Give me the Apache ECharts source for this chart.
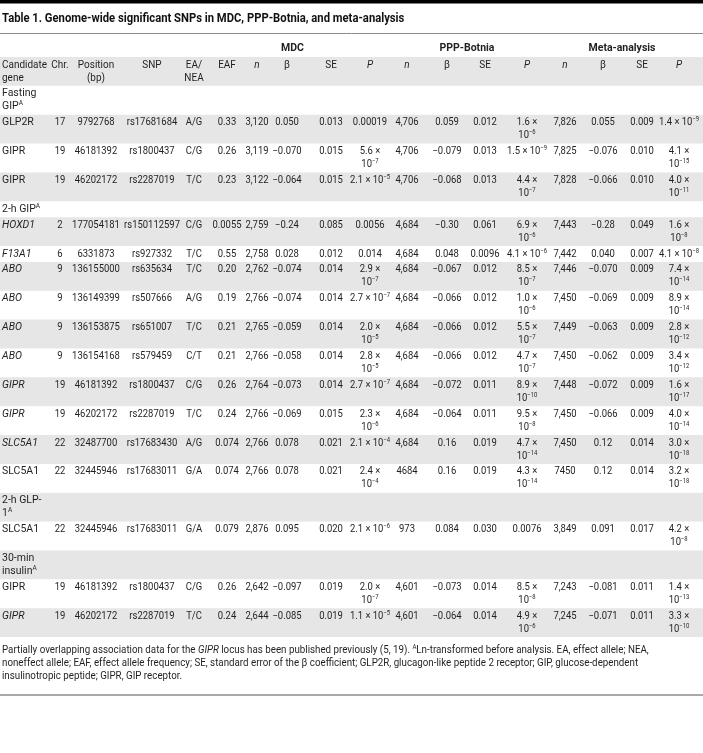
<!DOCTYPE html>
<html><head><meta charset="utf-8">
<script src="https://cdn.jsdelivr.net/npm/echarts@6/dist/echarts.min.js"></script>
<style>html,body{margin:0;padding:0;background:#fff}#c{width:703px;height:753px}</style>
</head><body><div id="c"></div>
<script>
// ---------- DATA ----------
const TITLE = 'Table 1. Genome-wide significant SNPs in MDC, PPP-Botnia, and meta-analysis';
const GROUPS = ['MDC', 'PPP-Botnia', 'Meta-analysis'];
const HEADERS = ['Candidate\ngene', 'Chr.', 'Position\n(bp)', 'SNP', 'EA/\nNEA', 'EAF',
  'n', 'β', 'SE', 'P', 'n', 'β', 'SE', 'P', 'n', 'β', 'SE', 'P'];
const GENES = ['Fasting\nGIP^A', 'GLP2R', 'GIPR', 'GIPR', '2-h GIP^A', 'HOXD1', 'F13A1', 'ABO', 'ABO', 'ABO', 'ABO',
  'GIPR', 'GIPR', 'SLC5A1', 'SLC5A1', '2-h GLP-\n1^A', 'SLC5A1', '30-min\ninsulin^A', 'GIPR', 'GIPR'];
const CHR = ['', '17', '19', '19', '', '2', '6', '9', '9', '9', '9', '19', '19', '22', '22', '', '22', '', '19', '19'];
const POSITION = ['', '9792768', '46181392', '46202172', '', '177054181', '6331873', '136155000', '136149399', '136153875', '136154168',
  '46181392', '46202172', '32487700', '32445946', '', '32445946', '', '46181392', '46202172'];
const SNP = ['', 'rs17681684', 'rs1800437', 'rs2287019', '', 'rs150112597', 'rs927332', 'rs635634', 'rs507666', 'rs651007', 'rs579459',
  'rs1800437', 'rs2287019', 'rs17683430', 'rs17683011', '', 'rs17683011', '', 'rs1800437', 'rs2287019'];
const EA_NEA = ['', 'A/G', 'C/G', 'T/C', '', 'C/G', 'T/C', 'T/C', 'A/G', 'T/C', 'C/T', 'C/G', 'T/C', 'A/G', 'G/A', '', 'G/A', '', 'C/G', 'T/C'];
const EAF = ['', '0.33', '0.26', '0.23', '', '0.0055', '0.55', '0.20', '0.19', '0.21', '0.21', '0.26', '0.24', '0.074', '0.074', '', '0.079', '', '0.26', '0.24'];
const MDC_N = ['', '3,120', '3,119', '3,122', '', '2,759', '2,758', '2,762', '2,766', '2,765', '2,766', '2,764', '2,766', '2,766', '2,766', '', '2,876', '', '2,642', '2,644'];
const MDC_BETA = ['', '0.050', '−0.070', '−0.064', '', '−0.24', '0.028', '−0.074', '−0.074', '−0.059', '−0.058', '−0.073', '−0.069', '0.078', '0.078', '', '0.095', '', '−0.097', '−0.085'];
const MDC_SE = ['', '0.013', '0.015', '0.015', '', '0.085', '0.012', '0.014', '0.014', '0.014', '0.014', '0.014', '0.015', '0.021', '0.021', '', '0.020', '', '0.019', '0.019'];
const MDC_P = ['', '0.00019', '5.6 ×\n10^−7', '2.1 × 10^−5', '', '0.0056', '0.014', '2.9 ×\n10^−7', '2.7 × 10^−7', '2.0 ×\n10^−5', '2.8 ×\n10^−5',
  '2.7 × 10^−7', '2.3 ×\n10^−6', '2.1 × 10^−4', '2.4 ×\n10^−4', '', '2.1 × 10^−6', '', '2.0 ×\n10^−7', '1.1 × 10^−5'];
const BOT_N = ['', '4,706', '4,706', '4,706', '', '4,684', '4,684', '4,684', '4,684', '4,684', '4,684', '4,684', '4,684', '4,684', '4684', '', '973', '', '4,601', '4,601'];
const BOT_BETA = ['', '0.059', '−0.079', '−0.068', '', '−0.30', '0.048', '−0.067', '−0.066', '−0.066', '−0.066', '−0.072', '−0.064', '0.16', '0.16', '', '0.084', '', '−0.073', '−0.064'];
const BOT_SE = ['', '0.012', '0.013', '0.013', '', '0.061', '0.0096', '0.012', '0.012', '0.012', '0.012', '0.011', '0.011', '0.019', '0.019', '', '0.030', '', '0.014', '0.014'];
const BOT_P = ['', '1.6 ×\n10^−6', '1.5 × 10^−9', '4.4 ×\n10^−7', '', '6.9 ×\n10^−6', '4.1 × 10^−6', '8.5 ×\n10^−7', '1.0 ×\n10^−6', '5.5 ×\n10^−7', '4.7 ×\n10^−7',
  '8.9 ×\n10^−10', '9.5 ×\n10^−8', '4.7 ×\n10^−14', '4.3 ×\n10^−14', '', '0.0076', '', '8.5 ×\n10^−8', '4.9 ×\n10^−6'];
const META_N = ['', '7,826', '7,825', '7,828', '', '7,443', '7,442', '7,446', '7,450', '7,449', '7,450', '7,448', '7,450', '7,450', '7450', '', '3,849', '', '7,243', '7,245'];
const META_BETA = ['', '0.055', '−0.076', '−0.066', '', '−0.28', '0.040', '−0.070', '−0.069', '−0.063', '−0.062', '−0.072', '−0.066', '0.12', '0.12', '', '0.091', '', '−0.081', '−0.071'];
const META_SE = ['', '0.009', '0.010', '0.010', '', '0.049', '0.007', '0.009', '0.009', '0.009', '0.009', '0.009', '0.009', '0.014', '0.014', '', '0.017', '', '0.011', '0.011'];
const META_P = ['', '1.4 × 10^−9', '4.1 ×\n10^−15', '4.0 ×\n10^−11', '', '1.6 ×\n10^−8', '4.1 × 10^−8', '7.4 ×\n10^−14', '8.9 ×\n10^−14', '2.8 ×\n10^−12', '3.4 ×\n10^−12',
  '1.6 ×\n10^−17', '4.0 ×\n10^−14', '3.0 ×\n10^−18', '3.2 ×\n10^−18', '', '4.2 ×\n10^−8', '', '1.4 ×\n10^−13', '3.3 ×\n10^−10'];
const FOOTNOTE = 'Partially overlapping association data for the {i|GIPR} locus has been published previously (5, 19). {sup|A}Ln-transformed before analysis. EA, effect allele; NEA,\n' +
  'noneffect allele; EAF, effect allele frequency; SE, standard error of the β coefficient; GLP2R, glucagon-like peptide 2 receptor; GIP, glucose-dependent\n' +
  'insulinotropic peptide; GIPR, GIP receptor.';

// ---------- STYLE / LAYOUT ----------
const GENE_ITALIC = [0,0,0,0,0,1,1,1,1,1,1,1,1,1,0,0,0,0,0,1];
const HEADER_ITALIC = [0,0,0,0,0,0,1,0,0,1,1,0,0,1,1,0,0,1];
const COL_X = [2, 60, 96, 152, 194, 227, 257, 287, 331, 370, 407, 447, 485, 527, 565, 603, 642, 679];
const GROUP_SPAN = [[5, 9], [10, 13], [14, 17]];
const FF = 'Roboto, "Liberation Sans", sans-serif';
const FS = 10.5;
const NUM_SCALE = 0.9, HEAD_SCALE = 0.95, FOOT_SCALE = 0.93, TITLE_SCALE = 0.9;
const LINE = 13, PAD = 2.86, TABLE_TOP = 57, GROUP_Y = 48;
const TEXT_COLOR = '#231f20', BAND = '#e6e6e6';

const COLUMNS = [GENES, CHR, POSITION, SNP, EA_NEA, EAF, MDC_N, MDC_BETA, MDC_SE, MDC_P,
  BOT_N, BOT_BETA, BOT_SE, BOT_P, META_N, META_BETA, META_SE, META_P];

// table rows: 0 = header, 1.. = data rows
const ROW_TEXTS = [HEADERS].concat(GENES.map((g, r) => COLUMNS.map(col => col[r])));
const ROW_LINES = ROW_TEXTS.map(cells => Math.max.apply(null, cells.map(t => t.split('\n').length)));
const ROW_TOP = [];
ROW_LINES.reduce((y, n, i) => { ROW_TOP[i] = y; return y + n * LINE + PAD; }, TABLE_TOP);
const rowBottom = r => ROW_TOP[r] + ROW_LINES[r] * LINE + PAD;

function toRich(str, italic) {
  return str.split('\n').map(line => {
    const parts = line.split('^');
    let out = italic ? (parts[0] ? '{i|' + parts[0] + '}' : '') : parts[0];
    for (let k = 1; k < parts.length; k++) {
      const m = parts[k].match(/^(\S+)(.*)$/);
      out += '{sup|' + m[1] + '}' + (m[2] ? (italic ? '{i|' + m[2] + '}' : m[2]) : '');
    }
    return out;
  }).join('\n');
}

const CELLS = [];
ROW_TEXTS.forEach((cells, r) => cells.forEach((t, c) => {
  if (!t) return;
  const italic = r === 0 ? HEADER_ITALIC[c] : (c === 0 ? GENE_ITALIC[r - 1] : 0);
  CELLS.push({ col: c, row: r, text: toRich(t, italic) });
}));

const RICH = {
  i: { fontStyle: 'italic', fontFamily: FF, fontSize: FS, fill: TEXT_COLOR, lineHeight: LINE },
  sup: { fontSize: 6.5, fontFamily: FF, lineHeight: 7, verticalAlign: 'top', fill: TEXT_COLOR }
};

const chart = echarts.init(document.getElementById('c'), null, { renderer: 'canvas' });
chart.setOption({
  animation: false,
  backgroundColor: '#fff',
  grid: { left: 0, right: 0, top: 0, bottom: 0 },
  xAxis: { type: 'value', min: 0, max: 703, show: false },
  yAxis: { type: 'value', min: 0, max: 753, inverse: true, show: false },
  graphic: [
    { type: 'rect', shape: { x: 0, y: 0, width: 703, height: 3.5 }, style: { fill: '#000' } },
    { type: 'text', x: 2, y: 18.5, scaleX: TITLE_SCALE, style: { text: TITLE, fontFamily: FF, fontSize: 12.5, fontWeight: 'bold',
        fill: '#111', verticalAlign: 'middle', align: 'left' } },
    { type: 'line', shape: { x1: 0, y1: 33.5, x2: 703, y2: 33.5 }, style: { stroke: '#8c8c8c', lineWidth: 1 } },
    { type: 'line', shape: { x1: 0, y1: 695, x2: 703, y2: 695 }, style: { stroke: '#8c8c8c', lineWidth: 1.5 } },
    { type: 'text', x: 2, y: 643.5, scaleX: FOOT_SCALE, style: { text: FOOTNOTE, rich: RICH, fontFamily: FF, fontSize: FS, lineHeight: LINE,
        fill: TEXT_COLOR, verticalAlign: 'top', align: 'left' } }
  ],
  series: [
    {
      type: 'custom', name: 'bands', silent: true,
      data: ROW_LINES.map((n, r) => [r]).filter(d => d[0] % 2 === 0),
      renderItem: (params, api) => {
        const r = api.value(0);
        const p0 = api.coord([0, ROW_TOP[r]]), p1 = api.coord([703, rowBottom(r)]);
        return { type: 'rect', shape: { x: p0[0], y: p0[1], width: p1[0] - p0[0], height: p1[1] - p0[1] }, style: { fill: BAND } };
      },
      encode: { x: -1, y: -1 }
    },
    {
      type: 'custom', name: 'groups', silent: true,
      data: GROUPS.map((g, k) => [k]),
      renderItem: (params, api) => {
        const k = api.value(0);
        const x = (COL_X[GROUP_SPAN[k][0]] + COL_X[GROUP_SPAN[k][1]]) / 2 - (k === 0 ? 6 : 0);
        const p = api.coord([x, GROUP_Y]);
        return { type: 'text', x: p[0], y: p[1], style: { text: GROUPS[k], fontFamily: FF, fontSize: FS, fontWeight: 'bold',
          fill: TEXT_COLOR, align: 'center', verticalAlign: 'middle' } };
      },
      encode: { x: -1, y: -1 }
    },
    {
      type: 'custom', name: 'cells', silent: true,
      data: CELLS.map(c => [c.col, c.row]),
      renderItem: (params, api) => {
        const c = api.value(0), r = api.value(1);
        const cell = CELLS[params.dataIndex];
        const p = api.coord([COL_X[c], ROW_TOP[r] + PAD / 2]);
        const sx = r === 0 ? HEAD_SCALE : (c === 0 ? 1 : NUM_SCALE);
        return { type: 'text', x: p[0], y: p[1], scaleX: sx, style: { text: cell.text, rich: RICH, fontFamily: FF, fontSize: FS,
          lineHeight: LINE, fill: TEXT_COLOR, align: c === 0 ? 'left' : 'center', verticalAlign: 'top' } };
      },
      encode: { x: -1, y: -1 }
    }
  ]
});
</script></body></html>
